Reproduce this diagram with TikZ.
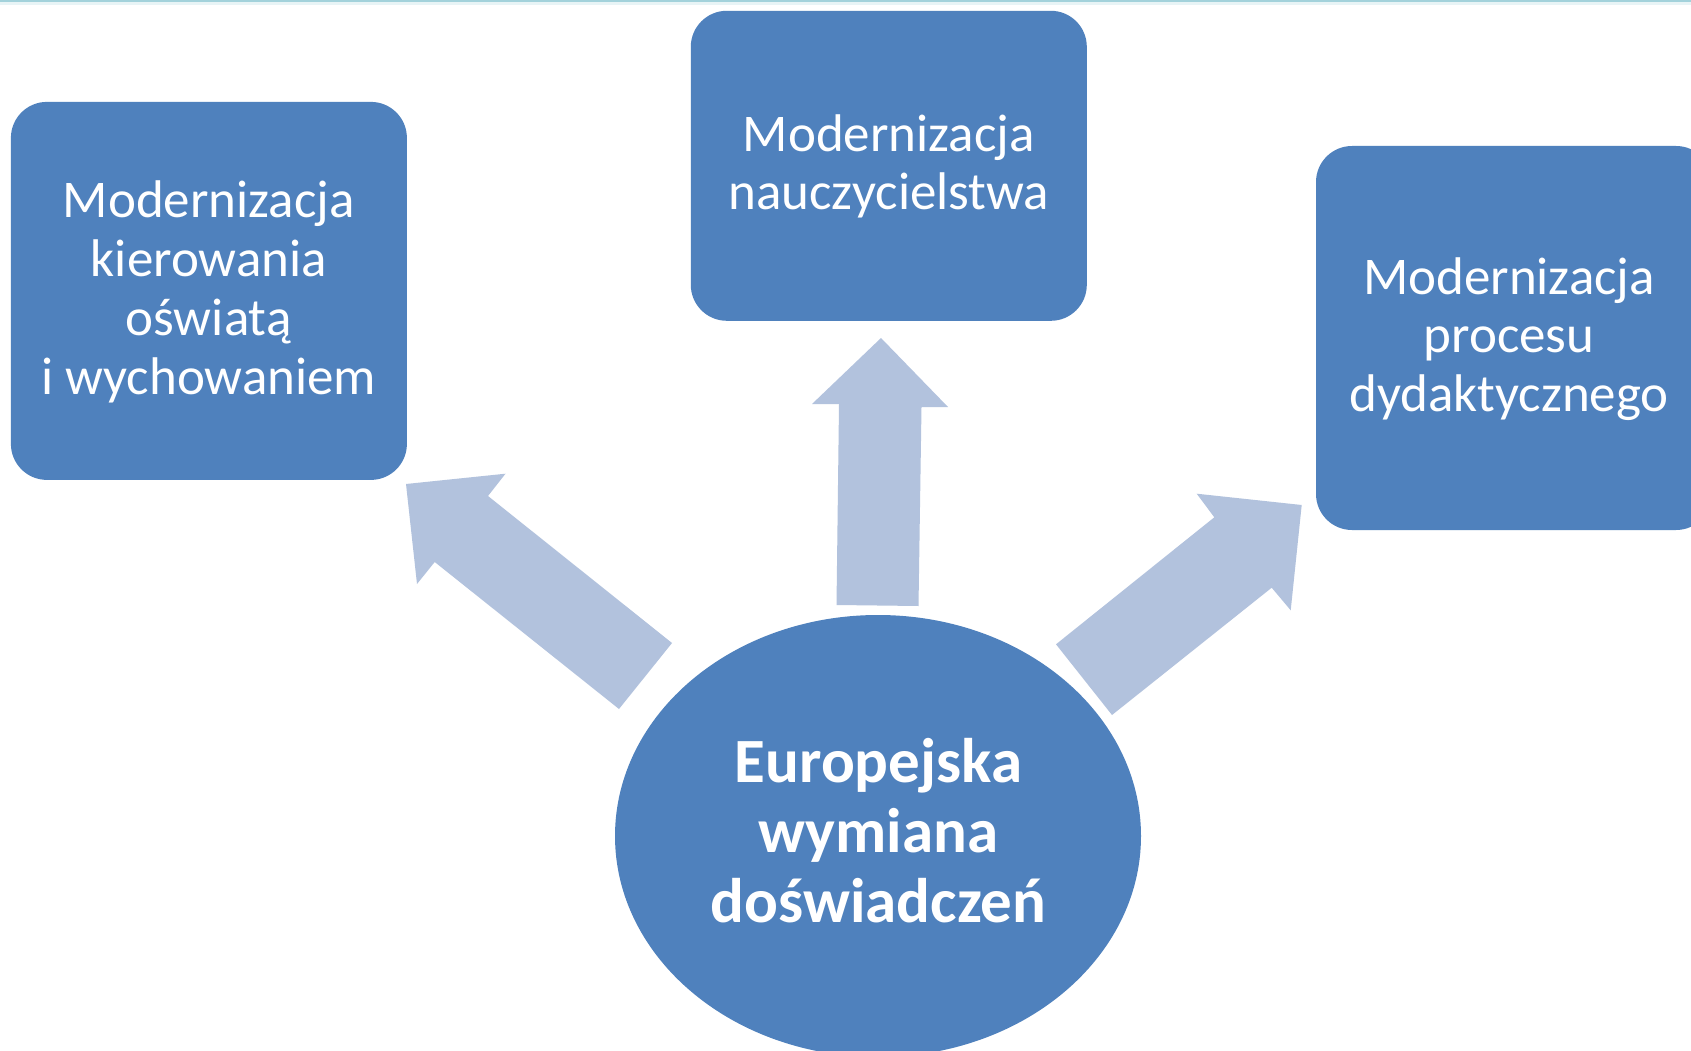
\documentclass[tikz,border=0pt]{standalone}
\usepackage{fontspec}
\setmainfont{Carlito}
\usetikzlibrary{shapes.geometric}
\definecolor{boxblue}{HTML}{4F81BD}
\definecolor{arrowblue}{HTML}{B2C2DD}
\definecolor{topline}{HTML}{A3D2DB}
\begin{document}
\begin{tikzpicture}[x=1pt,y=-1pt,
  box/.style={fill=boxblue, draw=none, rounded corners=36pt, inner sep=0pt, minimum width=396pt},
  hubshape/.style={ellipse, fill=boxblue, draw=none, inner sep=0pt, minimum width=526pt, minimum height=442pt},
  blockarrow/.style={fill=arrowblue, draw=none},
  lbl/.style={text=white, align=center, anchor=base, inner sep=0pt, font=\fontsize{53}{58.8}\selectfont},
  hublbl/.style={text=white, align=center, anchor=base, inner sep=0pt, font=\fontsize{63}{70}\selectfont\bfseries}]
\useasboundingbox (0,0) rectangle (1691,1051);
\clip (0,0) rectangle (1691,1051);
\fill[white] (0,0) rectangle (1691,1051);
\fill[topline] (0,0) rectangle (1691,2);
\fill[topline!25] (0,2) rectangle (1691,5);
% boxes
\node[box, minimum height=378pt] (left) at (208.9,290.9) {};
\node[box, minimum height=310pt] (mid) at (888.8,165.8) {};
\node[box, minimum height=384pt] (right) at (1514,338) {};
% hub
\node[hubshape] (hub) at (878,836) {};
% block arrows
\fill[blockarrow] (406,484) -- (505.5,473.7) -- (488,496) -- (672,643) -- (619,709) -- (434.7,562) -- (417,584) -- cycle;
\fill[blockarrow] (881,338) -- (948,407) -- (921.5,407) -- (918.5,606) -- (836.5,605) -- (839,404) -- (812,404) -- cycle;
\fill[blockarrow] (1301.7,505) -- (1290.7,610.3) -- (1271.7,587.7) -- (1112,715) -- (1056,644.3) -- (1214.3,517.3) -- (1196.7,493.7) -- cycle;
% texts (base anchor = baseline of the last line)
\node[lbl] (tl) at (208.8,394) {Modernizacja\\kierowania\\oświatą\\i wychowaniem};
\node[lbl] (tm) at (888.8,210) {Modernizacja\\nauczycielstwa};
\node[lbl] (tr) at (1509,411.7) {Modernizacja\\procesu\\dydaktycznego};
\node[hublbl] (th) at (878.5,922.7) {Europejska\\wymiana\\doświadczeń};
\end{tikzpicture}
\end{document}
